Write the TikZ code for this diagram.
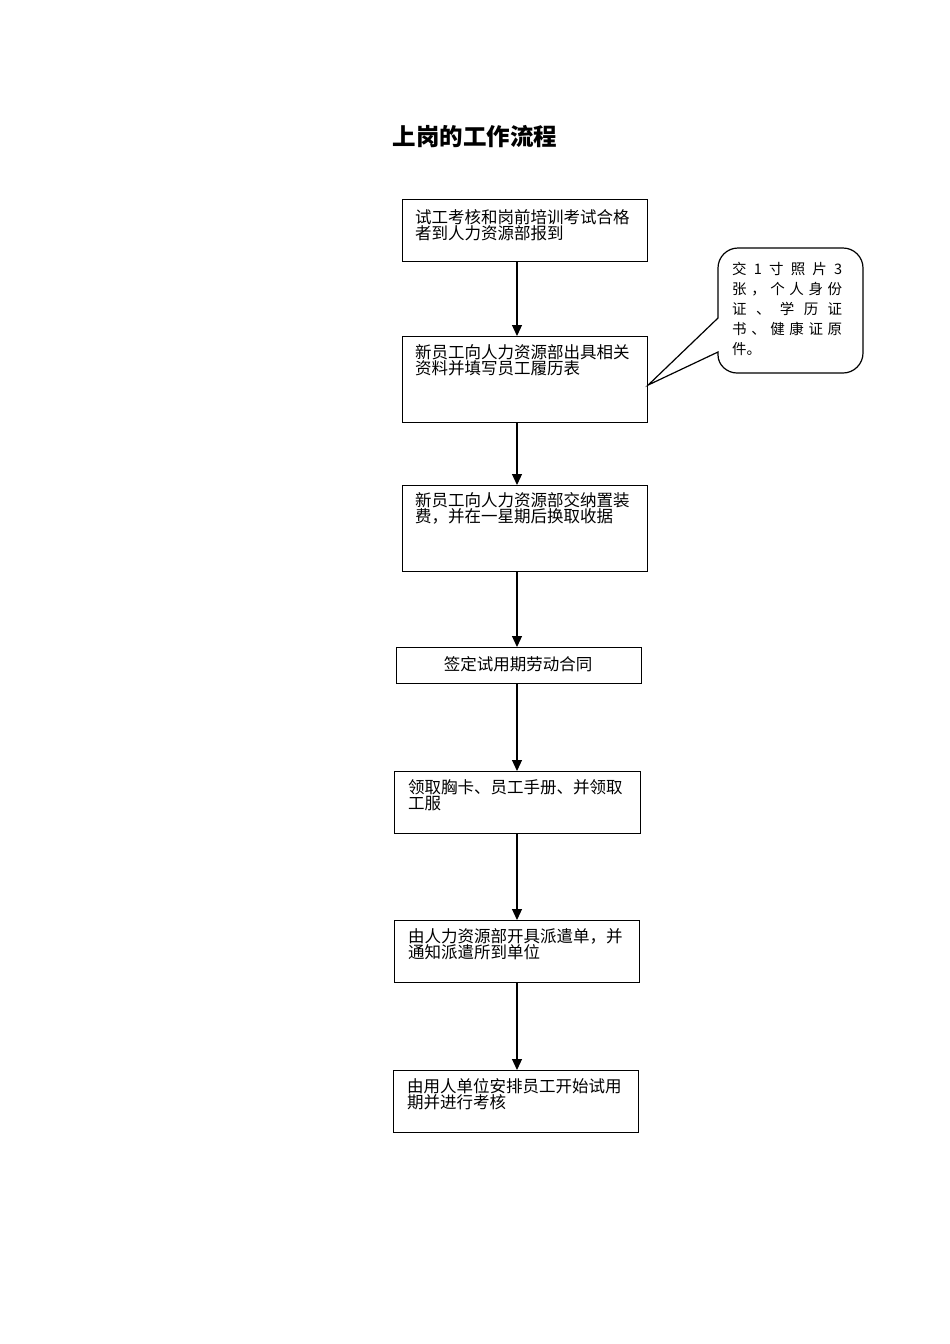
\documentclass[tikz,border=0pt]{standalone}
\usepackage{fontspec}
\setmainfont{Noto Sans CJK SC}
\usetikzlibrary{arrows.meta}
\tikzset{
  box/.style={draw, line width=1.2pt, inner sep=0pt},
  boxtext/.style={inner sep=0pt, anchor=base west, align=left,
    font=\fontsize{16.5}{16.5}\selectfont},
  arr/.style={line width=1.2pt, -{Triangle[length=11pt,width=10pt]}},
}
\begin{document}
\begin{tikzpicture}[x=1pt,y=-1pt]
\useasboundingbox (0,0) rectangle (950,1344);
% title
\node[inner sep=0pt, font=\fontsize{23.5}{24}\selectfont\bfseries] (title) at (475,137) {上岗的工作流程};
% boxes
\node[box, minimum width=245pt, minimum height=62pt, anchor=north west] (b1) at (402,199) {};
\node[box, minimum width=245pt, minimum height=86pt, anchor=north west] (b2) at (402,336) {};
\node[box, minimum width=245pt, minimum height=86pt, anchor=north west] (b3) at (402,485) {};
\node[box, minimum width=245pt, minimum height=36pt, anchor=north west] (b4) at (396,647) {};
\node[box, minimum width=246pt, minimum height=62pt, anchor=north west] (b5) at (394,771) {};
\node[box, minimum width=245pt, minimum height=62pt, anchor=north west] (b6) at (394,920) {};
\node[box, minimum width=245pt, minimum height=62pt, anchor=north west] (b7) at (393,1070) {};
% texts (anchor = baseline of the last line)
\node[boxtext] (t1) at (415,239.5) {试工考核和岗前培训考试合格\\者到人力资源部报到};
\node[boxtext] (t2) at (415,374.5) {新员工向人力资源部出具相关\\资料并填写员工履历表};
\node[boxtext] (t3) at (415,522.5) {新员工向人力资源部交纳置装\\费，并在一星期后换取收据};
\node[inner sep=0pt, font=\fontsize{16.5}{16.5}\selectfont] (t4) at (518,664) {签定试用期劳动合同};
\node[boxtext] (t5) at (408,809.5) {领取胸卡、员工手册、并领取\\工服};
\node[boxtext] (t6) at (408,958.5) {由人力资源部开具派遣单，并\\通知派遣所到单位};
\node[boxtext] (t7) at (407,1108.5) {由用人单位安排员工开始试用\\期并进行考核};
% arrows
\coordinate (ax) at (517,0);
\draw[arr] (b1.south -| ax) -- (b2.north -| ax);
\draw[arr] (b2.south -| ax) -- (b3.north -| ax);
\draw[arr] (b3.south -| ax) -- (b4.north -| ax);
\draw[arr] (b4.south -| ax) -- (b5.north -| ax);
\draw[arr] (b5.south -| ax) -- (b6.north -| ax);
\draw[arr] (b6.south -| ax) -- (b7.north -| ax);
% callout
\coordinate (tip) at (b2.east |- 0,385);
\draw[line width=1.2pt, line join=miter] (tip) -- (718,318) -- (718,268)
  .. controls (718,257) and (727,248) .. (738,248) -- (843,248)
  .. controls (854,248) and (863,257) .. (863,268) -- (863,353)
  .. controls (863,364) and (854,373) .. (843,373) -- (737,373)
  .. controls (727,373) and (718,365) .. (718,355) -- (718,352) -- cycle;
\node[inner sep=0pt, anchor=north west, align=left,
  font=\fontsize{14.5}{20}\selectfont] (note) at (732,262) {%
  \makebox[110pt][s]{交\hfill 1\hfill 寸\hfill 照\hfill 片\hfill 3}\\
  \makebox[110pt][s]{张\hfill ，\hfill 个\hfill 人\hfill 身\hfill 份}\\
  \makebox[110pt][s]{证\hfill 、\hfill 学\hfill 历\hfill 证}\\
  \makebox[110pt][s]{书\hfill 、\hfill 健\hfill 康\hfill 证\hfill 原}\\
  件。};
\end{tikzpicture}
\end{document}
